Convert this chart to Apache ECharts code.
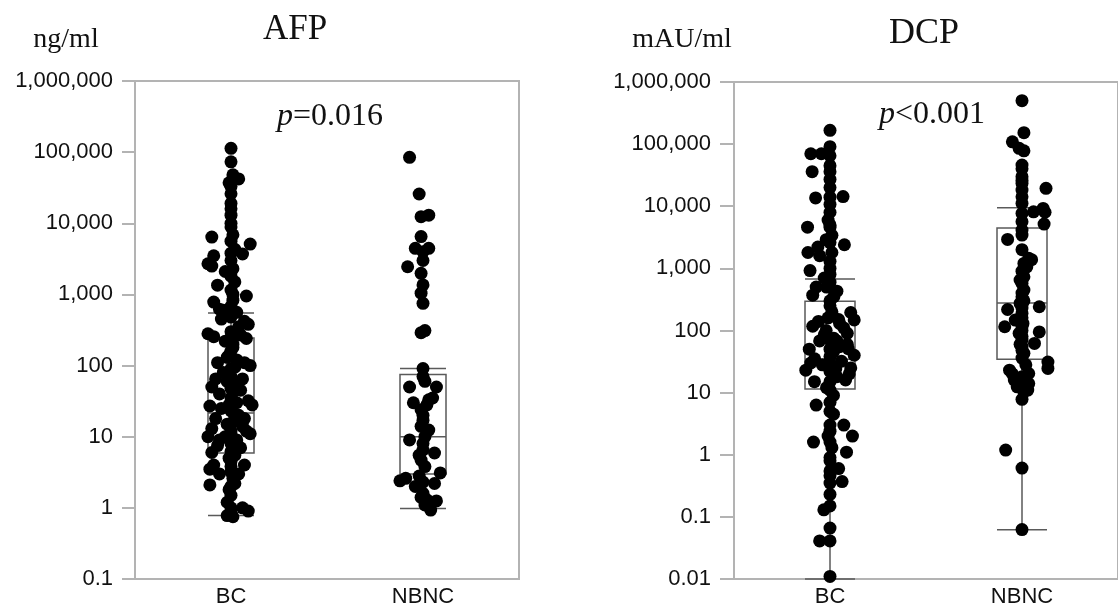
<!DOCTYPE html>
<html>
<head>
<meta charset="utf-8">
<script src="https://cdn.jsdelivr.net/npm/echarts@6/dist/echarts.min.js"></script>
<style>
  html, body { margin: 0; padding: 0; background: #fff; }
  #chart { width: 1118px; height: 608px; }
</style>
</head>
<body>
<div id="chart"></div>
<script>
// groups on the x axis
const categories = ['BC', 'NBNC'];

// box plot stats [min, Q1, median, Q3, max]
const afpBox = [[0.78, 5.9, 21.5, 244, 548], [0.98, 3.0, 10, 75, 91]];
const dcpBox = [[0.01, 11.4, 34.6, 297, 673], [0.062, 34.6, 276, 4460, 9460]];

// individual patients: [jitter (category units), value]
const afpBC = [
  [0.00,113000],[0.00,73000],[0.01,48000],[0.04,42000],[-0.01,37000],[0.00,33000],[0.00,26000],[0.00,19000],
  [0.00,16000],[0.00,13000],[0.00,10000],[0.00,8900],[0.01,6900],[-0.10,6400],[0.10,5100],[0.00,5600],
  [0.02,4300],[0.00,3800],[0.06,3700],[-0.09,3500],[-0.12,2700],[-0.10,2500],[0.00,3000],[0.01,2300],
  [-0.03,2100],[0.00,1800],[0.02,1500],[-0.07,1350],[0.00,1150],[0.01,1000],[0.08,950],[0.01,830],
  [-0.09,780],[0.00,680],[-0.06,620],[-0.04,600],[0.03,560],[0.00,480],[-0.05,450],[0.07,420],
  [0.09,380],[0.04,350],[0.00,300],[-0.12,280],[0.05,270],[-0.09,255],[0.00,250],[0.08,240],
  [-0.03,220],[0.01,200],[0.01,180],[0.00,160],[-0.01,140],[-0.02,130],[0.03,120],[0.07,110],
  [-0.07,110],[0.10,100],[0.02,95],[0.00,90],[-0.04,80],[0.00,70],[-0.08,65],[0.06,65],
  [-0.02,60],[0.02,55],[-0.10,50],[0.00,48],[0.05,45],[0.01,42],[-0.06,40],[0.00,35],
  [0.09,32],[0.03,30],[0.11,28],[-0.01,28],[-0.11,27],[-0.05,25],[0.00,23],[0.04,20],
  [-0.08,18],[0.02,18],[0.07,18],[0.01,16],[-0.02,15],[0.06,14],[-0.10,13],[0.00,12],
  [0.08,12],[0.00,11],[0.10,11],[-0.12,10],[-0.03,10],[0.03,9],[-0.06,9],[0.00,8],
  [-0.07,7.5],[0.05,7],[0.01,7],[0.00,6.2],[-0.10,6],[0.02,5.5],[-0.01,5],[0.00,4.5],
  [-0.09,4],[0.07,4],[0.00,3.8],[-0.11,3.5],[0.00,3.2],[-0.06,3],[0.04,3],[0.01,2.6],
  [0.02,2.2],[-0.11,2.1],[0.00,2.0],[-0.01,1.8],[0.00,1.5],[-0.02,1.2],[0.00,1.0],[0.06,1.0],
  [0.09,0.9],[0.00,0.85],[-0.02,0.78],[0.01,0.75]
];
const afpNBNC = [
  [-0.07,84600],[-0.02,25800],[0.03,13000],[-0.01,12400],[-0.01,6500],[-0.04,4450],[0.03,4450],[0.00,3980],
  [0.00,3000],[-0.08,2450],[-0.01,1980],[0.00,1360],[-0.01,1040],[0.00,750],[0.01,310],[-0.01,290],
  [0.00,91],[0.00,70],[0.01,60],[-0.07,50],[0.07,50],[0.05,35],[0.03,33],[-0.05,30],
  [0.02,28],[-0.01,24],[0.00,20],[0.00,17],[-0.01,14],[0.03,12.4],[0.01,10],[-0.07,9],
  [0.00,8],[0.00,6.5],[0.06,5.9],[-0.02,5.5],[-0.01,4.7],[0.01,3.8],[0.09,3.1],[-0.02,2.8],
  [-0.09,2.6],[-0.12,2.4],[0.00,2.3],[0.06,2.2],[-0.04,2.0],[0.00,1.6],[-0.01,1.4],[0.02,1.3],
  [0.07,1.25],[0.01,1.1],[0.04,0.93]
];
const dcpBC = [
  [0.00,167000],[0.00,91000],[-0.10,70000],[-0.045,70000],[0.00,65000],[0.00,45000],[-0.093,36000],[0.00,36000],
  [0.00,27000],[0.00,20000],[0.068,14300],[0.00,14000],[-0.075,13600],[0.00,10700],[0.00,8000],[-0.01,6000],
  [0.00,5000],[-0.117,4600],[0.00,4600],[0.01,3400],[-0.02,2900],[0.00,2600],[0.075,2400],[-0.063,2200],
  [-0.115,1800],[0.01,1800],[-0.054,1600],[0.00,1300],[0.00,1000],[-0.104,920],[0.00,800],[-0.03,700],
  [0.00,600],[-0.072,500],[-0.018,500],[0.036,430],[-0.09,370],[0.02,350],[0.00,300],[0.00,250],
  [0.01,200],[0.108,195],[-0.01,160],[0.045,150],[0.126,148],[-0.06,140],[0.05,130],[-0.09,117],
  [0.072,110],[-0.02,100],[0.09,90],[-0.03,85],[0.02,75],[0.00,70],[-0.054,68],[0.036,68],
  [0.09,60],[0.05,55],[0.095,51],[-0.108,50],[0.00,50],[0.018,45],[0.126,40],[0.00,38],
  [-0.08,35],[0.06,32],[-0.10,30],[0.00,30],[-0.04,28],[0.108,25],[0.03,24],[-0.126,23],
  [0.00,22],[0.10,20],[0.036,18],[0.081,16],[-0.081,15],[0.00,15],[-0.018,12],[0.00,11],
  [0.018,9],[0.00,7],[-0.072,6.3],[0.00,5],[0.018,4.5],[0.072,3],[0.00,3],[0.00,2.4],
  [0.117,2],[-0.01,2],[-0.086,1.6],[0.00,1.6],[0.01,1.3],[0.086,1.1],[0.00,0.9],[0.00,0.8],
  [0.045,0.6],[0.00,0.55],[0.00,0.46],[0.063,0.37],[0.00,0.35],[0.00,0.23],[0.00,0.15],[-0.032,0.13],
  [0.00,0.066],[-0.054,0.041],[0.00,0.041],[0.00,0.011]
];
const dcpNBNC = [
  [0.00,500000],[0.01,153000],[-0.05,109000],[-0.015,85500],[0.01,78000],[0.00,46000],[0.00,40000],[0.00,29900],
  [0.00,26000],[0.00,23300],[0.125,19400],[0.00,18200],[0.00,14200],[0.00,11100],[0.11,9230],[0.06,8130],
  [0.12,8000],[0.00,7670],[0.00,5640],[0.115,5160],[0.00,4140],[0.00,3440],[-0.075,2920],[0.00,2000],
  [0.035,1450],[0.05,1380],[0.01,1200],[0.025,1060],[0.00,900],[0.01,733],[-0.01,650],[0.00,573],
  [0.01,447],[0.00,400],[0.00,349],[0.01,300],[-0.01,273],[0.09,241],[0.00,230],[-0.075,218],
  [0.00,188],[0.00,160],[-0.01,147],[-0.035,147],[0.005,130],[0.00,115],[-0.09,115],[0.00,100],
  [0.09,95],[-0.015,90],[0.00,80],[0.00,70],[0.065,62],[-0.01,60],[0.00,55],[0.00,48],
  [0.01,43],[0.00,36],[0.135,31],[0.02,28],[0.135,24.5],[-0.065,23],[0.035,20.3],[-0.05,20],
  [0.00,18],[-0.04,15.9],[0.035,14],[0.00,13],[-0.025,12.4],[0.03,11],[0.01,10.3],[0.00,7.8],
  [-0.085,1.19],[0.00,0.61],[0.00,0.0625]
];

const gray = '#b3b3b3';
const sans = '"Liberation Sans", Arial, sans-serif';
const serif = '"Liberation Serif", "Times New Roman", serif';

function fmt(v) {
  v = +v.toPrecision(3);
  if (v >= 1) return String(Math.round(v)).replace(/\B(?=(\d{3})+(?!\d))/g, ',');
  return String(v);
}

function toPoints(group, idx) {
  return group.map(function (d) { return [idx + 0.5 + d[0], d[1]]; });
}

function catAxis(g) {
  return {
    gridIndex: g, type: 'category', data: categories, boundaryGap: true,
    axisLine: { lineStyle: { color: gray, width: 2 } },
    axisTick: { length: 11, lineStyle: { color: gray, width: 2 } },
    axisLabel: { fontSize: 22, color: '#111', fontFamily: sans, margin: 7 }
  };
}
function valAxis(g) {
  return { gridIndex: g, type: 'value', min: 0, max: 2, show: false };
}
function logAxis(g, min, margin, tick) {
  return {
    gridIndex: g, type: 'log', logBase: 10, min: min, max: 1000000,
    axisLine: { show: true, lineStyle: { color: gray, width: 2 } },
    axisTick: { show: true, length: tick, lineStyle: { color: gray, width: 2 } },
    axisLabel: { margin: margin, fontSize: 22, color: '#111', fontFamily: sans, formatter: fmt },
    splitLine: { show: false },
    minorTick: { show: false }
  };
}

const boxStyle = { color: 'transparent', borderColor: '#5a5a5a', borderWidth: 1.5 };
const dotStyle = { color: '#000', opacity: 1 };

const chart = echarts.init(document.getElementById('chart'));
chart.setOption({
  animation: false,
  backgroundColor: '#fff',
  grid: [
    { left: 135, top: 81, width: 384, height: 498, show: true, borderColor: gray, borderWidth: 2 },
    { left: 734, top: 82, width: 400, height: 497, show: true, borderColor: gray, borderWidth: 2 }
  ],
  xAxis: [catAxis(0), valAxis(0), catAxis(1), valAxis(1)],
  yAxis: [logAxis(0, 0.1, 22, 13), logAxis(1, 0.01, 23, 14)],
  series: [
    { type: 'boxplot', xAxisIndex: 0, yAxisIndex: 0, boxWidth: [46, 46], itemStyle: boxStyle, data: afpBox, z: 2 },
    { type: 'scatter', xAxisIndex: 1, yAxisIndex: 0, symbolSize: 13, itemStyle: dotStyle, z: 3,
      data: toPoints(afpBC, 0).concat(toPoints(afpNBNC, 1)) },
    { type: 'boxplot', xAxisIndex: 2, yAxisIndex: 1, boxWidth: [50, 50], itemStyle: boxStyle, data: dcpBox, z: 2 },
    { type: 'scatter', xAxisIndex: 3, yAxisIndex: 1, symbolSize: 13, itemStyle: dotStyle, z: 3,
      data: toPoints(dcpBC, 0).concat(toPoints(dcpNBNC, 1)) }
  ],
  graphic: [
    { type: 'text', x: 66, y: 40, style: { text: 'ng/ml', fontSize: 28, fontFamily: serif, fill: '#111', align: 'center', verticalAlign: 'middle' } },
    { type: 'text', x: 295, y: 30, style: { text: 'AFP', fontSize: 35, fontFamily: serif, fill: '#111', align: 'center', verticalAlign: 'middle' } },
    { type: 'text', x: 330, y: 117, style: { text: '{i|p}=0.016', fontSize: 32, fontFamily: serif, fill: '#111', align: 'center', verticalAlign: 'middle',
      rich: { i: { fontStyle: 'italic', fontSize: 32, fontFamily: serif } } } },
    { type: 'text', x: 682, y: 40, style: { text: 'mAU/ml', fontSize: 28, fontFamily: serif, fill: '#111', align: 'center', verticalAlign: 'middle' } },
    { type: 'text', x: 924, y: 34, style: { text: 'DCP', fontSize: 36, fontFamily: serif, fill: '#111', align: 'center', verticalAlign: 'middle' } },
    { type: 'text', x: 932, y: 115, style: { text: '{i|p}<0.001', fontSize: 32, fontFamily: serif, fill: '#111', align: 'center', verticalAlign: 'middle',
      rich: { i: { fontStyle: 'italic', fontSize: 32, fontFamily: serif } } } }
  ]
});
</script>
</body>
</html>
